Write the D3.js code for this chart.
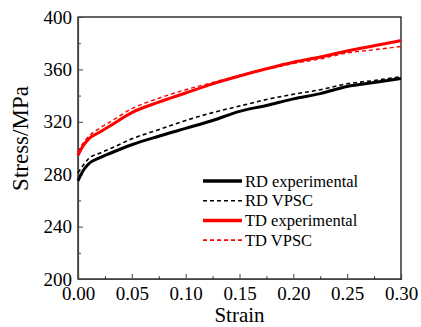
<!DOCTYPE html>
<html>
<head>
<meta charset="utf-8">
<script src="https://cdn.jsdelivr.net/npm/d3@7"></script>
<style>
  body { margin: 0; background: #fff; }
  text { font-family: "Liberation Serif", "Times New Roman", serif; fill: #000; }
</style>
</head>
<body>
<svg width="421" height="327"></svg>
<script>
// strain points (x values)
var strain = [0, 0.005, 0.01, 0.02, 0.03, 0.05, 0.075, 0.1, 0.125, 0.15, 0.175, 0.2, 0.225, 0.25, 0.275, 0.3];
// stress values, MPa
var rdExp  = [275, 283, 288, 292.5, 296, 302.5, 309, 315, 321, 328, 332.5, 337.5, 341.5, 347, 350, 353];
var rdVpsc = [281, 287, 292, 296, 299.5, 307, 314, 321, 327, 332, 337, 341, 344.5, 349, 351.5, 354.5];
var tdExp  = [294.5, 302, 307, 312, 317, 327, 335, 342, 349, 355, 360.5, 365.5, 369.5, 374, 378, 382];
var tdVpsc = [297, 304, 309, 315, 320, 330, 338, 344.5, 350, 355.5, 360, 364.5, 368, 372.5, 375, 377.5];

var seriesNames = ["RD experimental", "RD VPSC", "TD experimental", "TD VPSC"];
var xTicks = [0, 0.05, 0.1, 0.15, 0.2, 0.25, 0.3];
var yTicks = [200, 240, 280, 320, 360, 400];

var series = [
  {name: seriesNames[0], values: rdExp,  color: "#000", width: 3,   dash: null},
  {name: seriesNames[1], values: rdVpsc, color: "#000", width: 1.6, dash: "4,3"},
  {name: seriesNames[2], values: tdExp,  color: "#f00", width: 3,   dash: null},
  {name: seriesNames[3], values: tdVpsc, color: "#f00", width: 1.4, dash: "4,3"}
];

var margin = {top: 17, left: 78, right: 20, bottom: 48};
var width = 421 - margin.left - margin.right;
var height = 327 - margin.top - margin.bottom;

var svg = d3.select("svg");
var g = svg.append("g").attr("transform", "translate(" + margin.left + "," + margin.top + ")");

var x = d3.scaleLinear().domain([0, 0.3]).range([0, width]);
var y = d3.scaleLinear().domain([200, 400]).range([height, 0]);

// minor ticks
g.append("g")
  .attr("transform", "translate(0," + height + ")")
  .call(d3.axisBottom(x).tickValues(d3.range(0.025, 0.3, 0.05)).tickSize(-3).tickFormat(""))
  .call(function(a){ a.select(".domain").remove(); });
g.append("g")
  .call(d3.axisLeft(y).tickValues(d3.range(220, 400, 40)).tickSize(-3).tickFormat(""))
  .call(function(a){ a.select(".domain").remove(); });

// frame
g.append("rect").attr("width", width).attr("height", height)
  .attr("fill", "none").attr("stroke", "#000").attr("stroke-width", 1.2);

// axes
var xAxis = g.append("g")
  .attr("transform", "translate(0," + height + ")")
  .call(d3.axisBottom(x).tickValues(xTicks).tickSize(-5).tickPadding(8).tickFormat(d3.format(".2f")));
xAxis.selectAll("text").style("font-size", "19px");

var yAxis = g.append("g")
  .call(d3.axisLeft(y).tickValues(yTicks).tickSize(-5).tickPadding(6));
yAxis.selectAll("text").style("font-size", "19px");

svg.selectAll(".domain").attr("stroke", "#444").attr("stroke-width", 1.2);
svg.selectAll(".tick line").attr("stroke", "#444");

// lines
var line = d3.line()
  .x(function(d, i){ return x(strain[i]); })
  .y(function(d){ return y(d); })
  .curve(d3.curveMonotoneX);

g.selectAll(".series")
  .data(series)
  .enter()
  .append("path")
  .attr("class", "series")
  .attr("d", function(s){ return line(s.values); })
  .attr("fill", "none")
  .attr("stroke", function(s){ return s.color; })
  .attr("stroke-width", function(s){ return s.width; })
  .attr("stroke-dasharray", function(s){ return s.dash; });

// legend
var legend = svg.append("g").attr("transform", "translate(203,181)");
var rows = legend.selectAll("g")
  .data(series)
  .enter()
  .append("g")
  .attr("transform", function(d, i){ return "translate(0," + (i * 19.7) + ")"; });
rows.append("line")
  .attr("x1", 0).attr("x2", 39).attr("y1", 0).attr("y2", 0)
  .attr("stroke", function(s){ return s.color; })
  .attr("stroke-width", function(s){ return s.dash ? 1.6 : 3.5; })
  .attr("stroke-dasharray", function(s){ return s.dash; });
rows.append("text")
  .attr("x", 42).attr("y", 5.5)
  .style("font-size", "16.5px")
  .text(function(s){ return s.name; });

// axis titles
svg.append("text")
  .attr("x", margin.left + width / 2).attr("y", 321.5)
  .attr("text-anchor", "middle")
  .style("font-size", "21px")
  .text("Strain");
svg.append("text")
  .attr("transform", "translate(28,138.5) rotate(-90)")
  .attr("text-anchor", "middle")
  .style("font-size", "23px")
  .text("Stress/MPa");
</script>
</body>
</html>
